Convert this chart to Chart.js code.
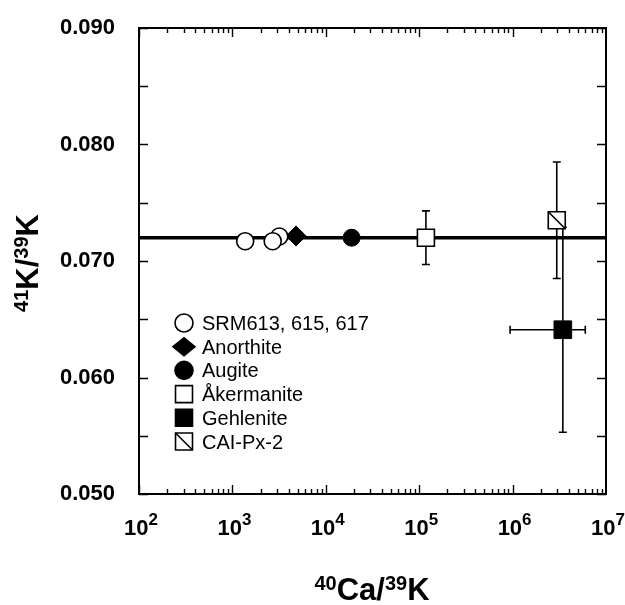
<!DOCTYPE html>
<html>
<head>
<meta charset="utf-8">
<script src="https://cdn.jsdelivr.net/npm/chart.js@4.4.1/dist/chart.umd.min.js"></script>
<style>
  body { margin: 0; background: #fff; }
</style>
</head>
<body>
<canvas id="myChart" width="625" height="605"></canvas>
<script>
// DATA
var srmX = [1370, 3180, 2700];
var srmY = [0.0717, 0.0721, 0.0717];
var anorthiteX = [4800];
var anorthiteY = [0.07215];
var augiteX = [18900];
var augiteY = [0.0720];
var akermaniteX = [118000];
var akermaniteY = [0.0720];
var akermaniteYErr = [0.0023];
var gehleniteX = [3450000];
var gehleniteY = [0.0641];
var gehleniteYErr = [0.0088];
var gehleniteXLow = [940000];
var gehleniteXHigh = [6000000];
var caiX = [2970000];
var caiY = [0.0735];
var caiYErr = [0.0050];
var refLineX = [100, 10000000];
var refLineY = [0.072, 0.072];

var legendLabels = ['SRM613, 615, 617', 'Anorthite', 'Augite', '\u00c5kermanite', 'Gehlenite', 'CAI-Px-2'];
var xTickExp = [2, 3, 4, 5, 6, 7];
var yTickLabels = ['0.050', '0.060', '0.070', '0.080', '0.090'];
var yMinorStep = 0.005;

var FONT = '"Liberation Sans", Arial, Helvetica, sans-serif';

function pts(xs, ys) {
  return xs.map(function (x, i) { return { x: x, y: ys[i] }; });
}

// text made of pieces, some raised as superscripts
function supText(ctx, parts, x, y, align) {
  var w = 0;
  parts.forEach(function (p) {
    ctx.font = 'bold ' + p.size + 'px ' + FONT;
    p.w = ctx.measureText(p.t).width;
    w += p.w;
  });
  var cx = align === 'center' ? x - w / 2 : x;
  ctx.textAlign = 'left';
  ctx.textBaseline = 'alphabetic';
  parts.forEach(function (p) {
    ctx.font = 'bold ' + p.size + 'px ' + FONT;
    ctx.fillText(p.t, cx, y - (p.up || 0));
    cx += p.w;
  });
}

// diagonal stroke inside a square marker (CAI-Px-2)
function slash(ctx, x, y, half) {
  ctx.beginPath();
  ctx.moveTo(x - half, y - half);
  ctx.lineTo(x + half, y + half);
  ctx.stroke();
}

var decorPlugin = {
  id: 'decor',
  beforeDatasetsDraw: function (chart) {
    var ctx = chart.ctx;
    var xs = chart.scales.x;
    var ys = chart.scales.y;
    ctx.save();
    ctx.strokeStyle = '#000';
    ctx.lineWidth = 1.6;
    chart.data.datasets.forEach(function (ds) {
      ds.data.forEach(function (p, i) {
        var px = xs.getPixelForValue(p.x);
        var py = ys.getPixelForValue(p.y);
        if (ds.errY) {
          var top = ys.getPixelForValue(p.y + ds.errY[i]);
          var bot = ys.getPixelForValue(p.y - ds.errY[i]);
          ctx.beginPath();
          ctx.moveTo(px, top); ctx.lineTo(px, bot);
          ctx.moveTo(px - 4, top); ctx.lineTo(px + 4, top);
          ctx.moveTo(px - 4, bot); ctx.lineTo(px + 4, bot);
          ctx.stroke();
        }
        if (ds.errXLow) {
          var l = xs.getPixelForValue(ds.errXLow[i]);
          var r = xs.getPixelForValue(ds.errXHigh[i]);
          ctx.beginPath();
          ctx.moveTo(l, py); ctx.lineTo(r, py);
          ctx.moveTo(l, py - 4); ctx.lineTo(l, py + 4);
          ctx.moveTo(r, py - 4); ctx.lineTo(r, py + 4);
          ctx.stroke();
        }
      });
    });
    ctx.restore();
  },
  afterDatasetsDraw: function (chart) {
    var ctx = chart.ctx;
    ctx.save();
    ctx.strokeStyle = '#000';
    ctx.lineWidth = 1.6;
    chart.data.datasets.forEach(function (ds, di) {
      if (!ds.slashed) return;
      chart.getDatasetMeta(di).data.forEach(function (el) {
        slash(ctx, el.x, el.y, ds.pointRadius * Math.SQRT1_2);
      });
    });
    ctx.restore();
  },
  afterDraw: function (chart) {
    var ctx = chart.ctx;
    var a = chart.chartArea;
    var xs = chart.scales.x;
    var ys = chart.scales.y;
    ctx.save();
    ctx.strokeStyle = '#000';
    ctx.fillStyle = '#000';

    // frame
    ctx.lineWidth = 2;
    ctx.strokeRect(a.left, a.top, a.right - a.left, a.bottom - a.top);

    // x ticks, inward, bottom and top
    ctx.lineWidth = 1.4;
    ctx.beginPath();
    for (var e = xTickExp[0]; e < xTickExp[xTickExp.length - 1]; e++) {
      for (var k = 1; k <= 9; k++) {
        var px = Math.round(xs.getPixelForValue(k * Math.pow(10, e))) + 0.5;
        var len = k === 1 ? 9 : 5;
        ctx.moveTo(px, a.bottom); ctx.lineTo(px, a.bottom - len);
        ctx.moveTo(px, a.top); ctx.lineTo(px, a.top + len);
      }
    }
    // y ticks, inward, left and right
    for (var v = ys.min; v <= ys.max + 1e-9; v += yMinorStep) {
      var py = Math.round(ys.getPixelForValue(v)) + 0.5;
      ctx.moveTo(a.left, py); ctx.lineTo(a.left + 9, py);
      ctx.moveTo(a.right, py); ctx.lineTo(a.right - 9, py);
    }
    ctx.stroke();

    // y tick labels
    ctx.font = 'bold 22px ' + FONT;
    ctx.textAlign = 'right';
    ctx.textBaseline = 'middle';
    yTickLabels.forEach(function (t) {
      ctx.fillText(t, 115, ys.getPixelForValue(parseFloat(t)));
    });

    // x tick labels 10^n
    xTickExp.forEach(function (n) {
      var px = xs.getPixelForValue(Math.pow(10, n));
      supText(ctx, [
        { t: '10', size: 22 },
        { t: String(n), size: 17, up: 10 }
      ], px + 2, 535, 'center');
    });

    // axis titles
    supText(ctx, [
      { t: '40', size: 20, up: 10 },
      { t: 'Ca/', size: 31 },
      { t: '39', size: 20, up: 10 },
      { t: 'K', size: 31 }
    ], 372, 600, 'center');

    ctx.save();
    ctx.translate(38, 263);
    ctx.rotate(-Math.PI / 2);
    supText(ctx, [
      { t: '41', size: 20, up: 10 },
      { t: 'K/', size: 31 },
      { t: '39', size: 20, up: 10 },
      { t: 'K', size: 31 }
    ], 0, 0, 'center');
    ctx.restore();

    // legend
    var markerX = 184;
    var textX = 202;
    legendLabels.forEach(function (label, i) {
      var ds = chart.data.datasets[i];
      var y = 323 + i * 23.7;
      ctx.lineWidth = 1.6;
      ctx.fillStyle = ds.backgroundColor;
      ctx.strokeStyle = '#000';
      if (ds.pointStyle === 'rectRot') {
        // legend diamond is a bit wider than tall
        ctx.beginPath();
        ctx.moveTo(markerX - 11, y);
        ctx.lineTo(markerX, y - 9);
        ctx.lineTo(markerX + 11, y);
        ctx.lineTo(markerX, y + 9);
        ctx.closePath();
        ctx.fill();
        ctx.stroke();
      } else {
        var r = ds.pointStyle === 'circle' ? 9 : 12;
        Chart.helpers.drawPoint(ctx, {
          pointStyle: ds.pointStyle,
          radius: r,
          borderWidth: 1.6
        }, markerX, y);
        if (ds.slashed) slash(ctx, markerX, y, r * Math.SQRT1_2);
      }
      ctx.fillStyle = '#000';
      ctx.font = '20px ' + FONT;
      ctx.textAlign = 'left';
      ctx.textBaseline = 'alphabetic';
      ctx.fillText(label, textX, y + 7);
    });

    ctx.restore();
  }
};

var ctx = document.getElementById('myChart').getContext('2d');
var chart = new Chart(ctx, {
  type: 'scatter',
  data: {
    datasets: [{
      label: legendLabels[0],
      data: pts(srmX, srmY),
      pointStyle: 'circle',
      pointRadius: 8.5,
      backgroundColor: '#fff',
      borderColor: '#000',
      borderWidth: 1.6,
      order: 1
    }, {
      label: legendLabels[1],
      data: pts(anorthiteX, anorthiteY),
      pointStyle: 'rectRot',
      pointRadius: 10,
      backgroundColor: '#000',
      borderColor: '#000',
      borderWidth: 1,
      order: 1
    }, {
      label: legendLabels[2],
      data: pts(augiteX, augiteY),
      pointStyle: 'circle',
      pointRadius: 8.5,
      backgroundColor: '#000',
      borderColor: '#000',
      borderWidth: 1,
      order: 1
    }, {
      label: legendLabels[3],
      data: pts(akermaniteX, akermaniteY),
      errY: akermaniteYErr,
      pointStyle: 'rect',
      pointRadius: 12,
      backgroundColor: '#fff',
      borderColor: '#000',
      borderWidth: 1.6,
      order: 1
    }, {
      label: legendLabels[4],
      data: pts(gehleniteX, gehleniteY),
      errY: gehleniteYErr,
      errXLow: gehleniteXLow,
      errXHigh: gehleniteXHigh,
      pointStyle: 'rect',
      pointRadius: 12.5,
      backgroundColor: '#000',
      borderColor: '#000',
      borderWidth: 1,
      order: 1
    }, {
      label: legendLabels[5],
      data: pts(caiX, caiY),
      errY: caiYErr,
      slashed: true,
      pointStyle: 'rect',
      pointRadius: 12,
      backgroundColor: '#fff',
      borderColor: '#000',
      borderWidth: 1.6,
      order: 0
    }, {
      // reference line
      type: 'line',
      label: 'ref',
      data: pts(refLineX, refLineY),
      borderColor: '#000',
      borderWidth: 3.5,
      pointRadius: 0,
      fill: false,
      order: 5
    }]
  },
  options: {
    responsive: false,
    animation: false,
    devicePixelRatio: 1,
    layout: { padding: { left: 139, top: 28, right: 19, bottom: 111 } },
    plugins: {
      legend: { display: false },
      tooltip: { enabled: false }
    },
    scales: {
      x: { type: 'logarithmic', min: 100, max: 10000000, display: false },
      y: { type: 'linear', min: 0.050, max: 0.090, display: false }
    }
  },
  plugins: [decorPlugin]
});
</script>
</body>
</html>
